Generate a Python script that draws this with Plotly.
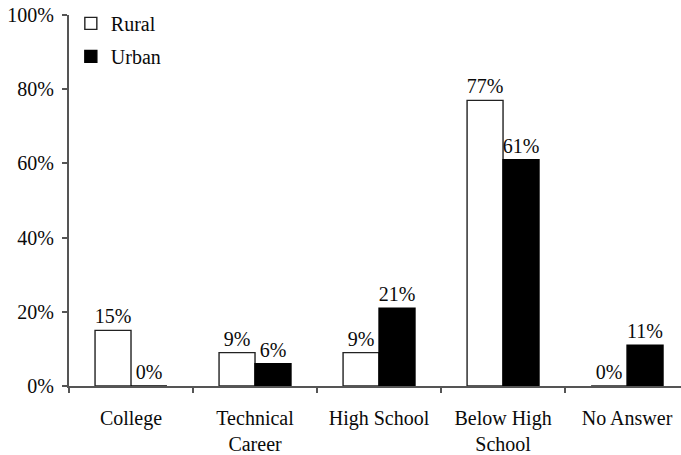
import plotly.graph_objects as go

categories = ["College", "Technical<br>Career", "High School", "Below High<br>School", "No Answer"]
rural = [15, 9, 9, 77, 0]
urban = [0, 6, 21, 61, 11]

font_family = "Liberation Serif, Times New Roman, serif"
text_color = "#0a0a0a"
fs = 20

fig = go.Figure()
fig.add_trace(go.Bar(
    x=categories, y=rural, name="Rural",
    marker=dict(color="white", line=dict(color="#222222", width=1.4)),
    text=[f"{v}%" for v in rural], textposition="outside", constraintext="none",
    textfont=dict(family=font_family, size=fs, color=text_color),
    cliponaxis=False, legendgroup="r",
))
fig.add_trace(go.Bar(
    x=categories, y=urban, name="Urban",
    marker=dict(color="black", line=dict(color="black", width=1.4)),
    text=[f"{v}%" for v in urban], textposition="outside", constraintext="none",
    textfont=dict(family=font_family, size=fs, color=text_color),
    cliponaxis=False, legendgroup="u",
))

fig.update_layout(
    width=681, height=455,
    margin=dict(l=69, r=0, t=15, b=69),
    paper_bgcolor="white", plot_bgcolor="white",
    barmode="group", bargap=0.42, bargroupgap=0,
    font=dict(family=font_family, size=fs, color=text_color),
    showlegend=True,
    legend=dict(x=0.003, y=1.03, xanchor="left", yanchor="top",
                bgcolor="rgba(0,0,0,0)", tracegroupgap=4, itemwidth=30,
                font=dict(family=font_family, size=fs, color=text_color)),
    xaxis=dict(
        range=[-0.5, 4.435], showline=True, linecolor="#555555", linewidth=2,
        ticks="outside", tickson="boundaries", ticklen=5, tickcolor="#555555",
        tickwidth=2, ticklabelstandoff=13, showgrid=False, automargin=False,
        tickfont=dict(family=font_family, size=fs, color=text_color),
    ),
    yaxis=dict(
        range=[0, 100], dtick=20, ticksuffix="%", showline=True,
        linecolor="#555555", linewidth=2, ticks="outside", ticklen=5,
        tickcolor="#555555", tickwidth=2, showgrid=False, zeroline=False,
        ticklabelstandoff=4, automargin=False,
        tickfont=dict(family=font_family, size=fs, color=text_color),
    ),
)

fig.write_html("out.html")
